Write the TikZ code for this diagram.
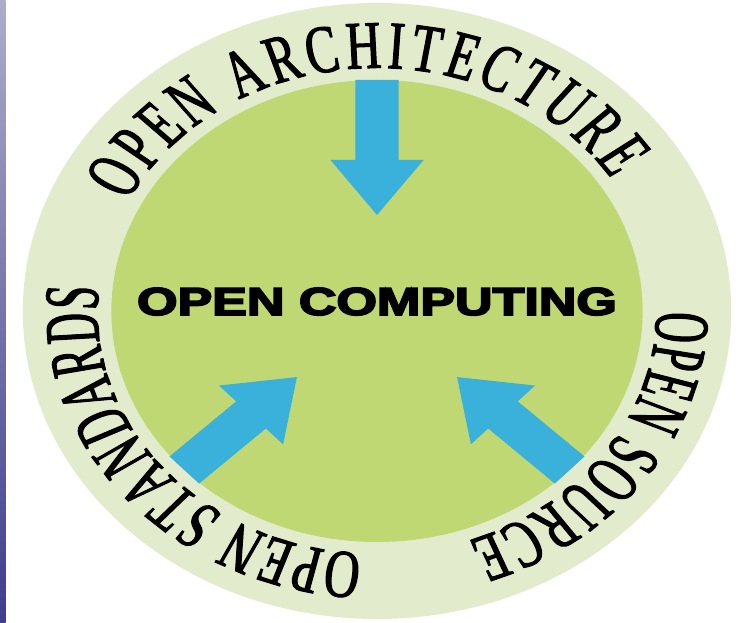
\documentclass[tikz,border=0pt]{standalone}
\usepackage{fontspec}
\setmainfont{Liberation Serif}
\newfontfamily\ringfont[FakeStretch=0.62, FakeBold=1.5]{Liberation Serif}
\newfontfamily\hubfont[FakeBold=4]{Liberation Sans Bold}
\usetikzlibrary{decorations.text}

\definecolor{ringgreen}{RGB}{226,236,205}
\definecolor{hubgreen}{RGB}{191,216,115}
\definecolor{arrowblue}{RGB}{58,177,218}
\definecolor{bartop}{RGB}{172,172,202}
\definecolor{barbottom}{RGB}{62,62,140}

\tikzset{
  ringtext/.style={
    decorate,
    decoration={text along path, text align=fit to path,
      text={|\ringfont\fontsize{68}{70}\selectfont|#1}}
  },
  hubtext/.style={anchor=base, inner sep=0pt,
    font=\hubfont\fontsize{39}{42}\selectfont},
  inarrow/.style={fill=arrowblue}
}

\begin{document}
\begin{tikzpicture}[x=1pt, y=1pt]
  \useasboundingbox (0,0) rectangle (742,622);
  \fill[white] (0,0) rectangle (742,622);
  % side bar
  \shade[top color=bartop, bottom color=barbottom] (0,0) rectangle (5.5,622);

  \begin{scope}[transform canvas={shift={(377pt,311pt)}, xscale=1.15}]
    \fill[ringgreen] (0,0) circle (308);
    \fill[hubgreen] (0,0) circle (231);
    % three arrows pointing in
    \foreach \ang in {90,-136.5,-43.5}{
      \fill[inarrow, rotate=\ang] (231,-18.7) -- (151,-18.7) -- (151,-40.5)
        -- (96,0) -- (151,40.5) -- (151,18.7) -- (231,18.7) -- cycle;
    }
    \node[hubtext] (computing) at (0,-4) {\scalebox{1.16}[1]{OPEN COMPUTING}};

    % ring labels
    \path[ringtext={OPEN ARCHITECTURE}]
      (153:243) arc[start angle=153, end angle=33, radius=243];
    \path[ringtext={OPEN SOURCE}]
      (0:243) arc[start angle=0, end angle=-71, radius=243];
    \path[ringtext={OPEN STANDARDS}]
      (-93:243) arc[start angle=-93, end angle=-185.7, radius=243];
  \end{scope}
\end{tikzpicture}
\end{document}
